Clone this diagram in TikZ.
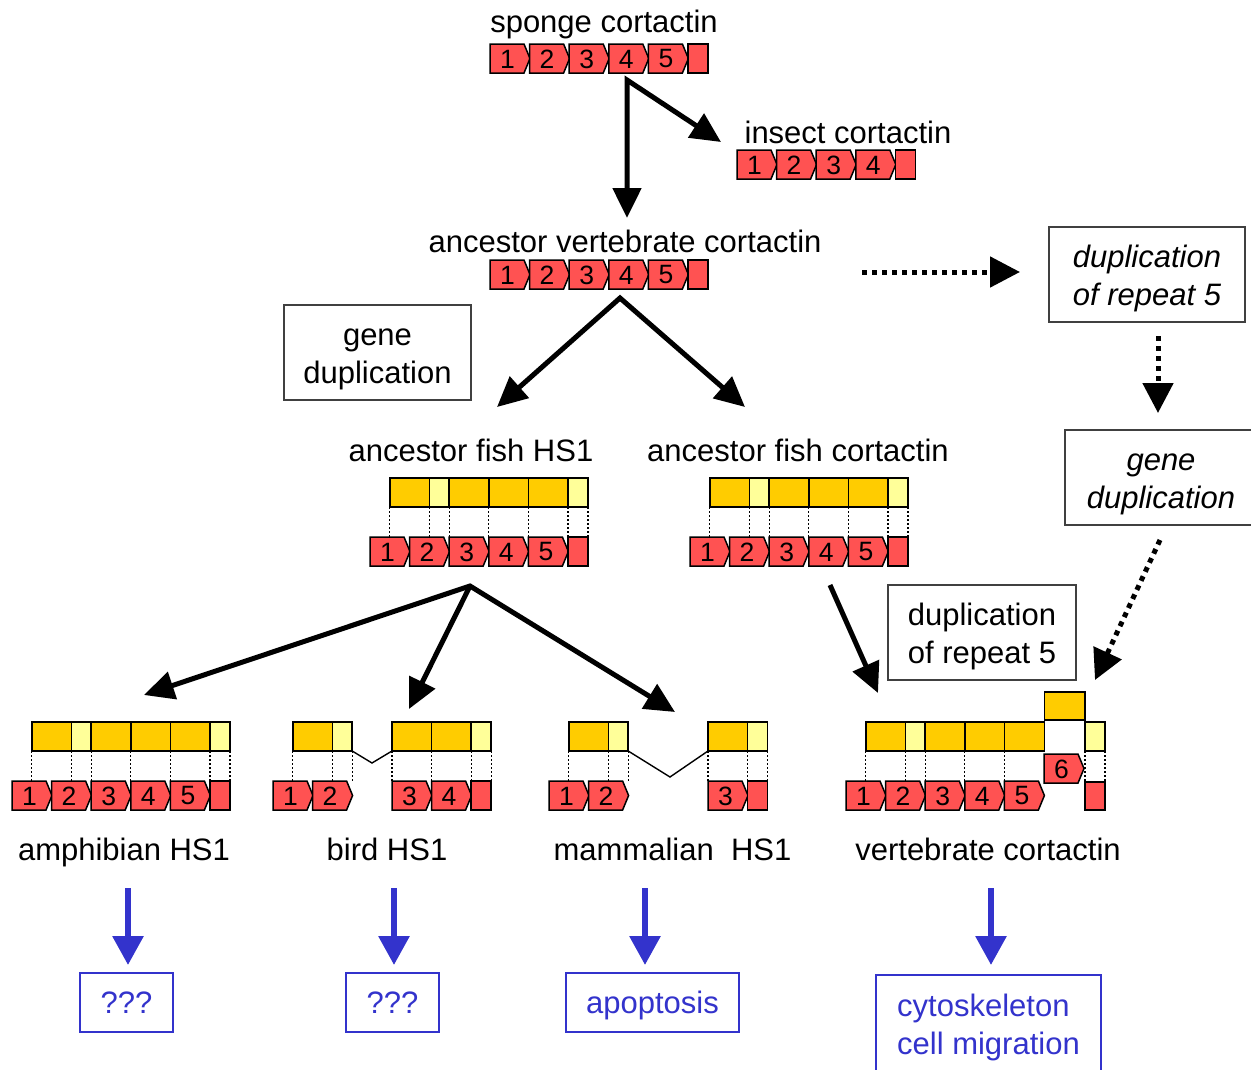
\documentclass[tikz,border=0pt]{standalone}
\usepackage{fontspec}
\setmainfont{Liberation Sans}
\usetikzlibrary{arrows.meta}
\definecolor{repred}{RGB}{255,82,82}
\definecolor{dkyel}{RGB}{255,204,0}
\definecolor{ltyel}{RGB}{255,255,153}
\definecolor{fnblue}{RGB}{51,51,204}
\newcommand\lblfont{\fontsize{31}{38}\selectfont}
\newcommand\numfont{\fontsize{26.5}{28}\selectfont}
\newcommand\bxs{\rule[-7.4pt]{0pt}{38pt}}
\tikzset{
  rep/.style={draw=black, line width=1.5pt, fill=repred, line join=miter},
  num/.style={inner sep=0pt, font=\numfont},
  dk/.style={draw=black, line width=1.5pt, fill=dkyel},
  lt/.style={draw=black, line width=1.5pt, fill=ltyel},
  thindot/.style={line width=1.2pt, dash pattern=on 2pt off 2pt},
  vline/.style={line width=1.4pt},
  lbl/.style={anchor=base, inner sep=0pt, font=\lblfont},
  bx/.style={draw=black!75, line width=1.2pt, align=center, font=\lblfont, inner sep=0pt},
  blk/.style={line width=5pt, -{Triangle[length=30pt,width=28pt]}},
  blkboth/.style={line width=5pt, {Triangle[length=30pt,width=28pt]}-{Triangle[length=30pt,width=28pt]}},
  dotarr/.style={line width=5pt, dash pattern=on 5pt off 5pt, -{Triangle[length=30pt,width=30pt]}},
  blu/.style={draw=fnblue, line width=6pt, -{Triangle[length=29pt,width=30pt]}},
  bbx/.style={draw=fnblue, line width=2.5pt, text=fnblue, font=\lblfont, inner sep=0pt},
  one/.style={text height=24pt, text depth=2pt},
}
\newcommand\pent[4]{%
  \draw[rep] ({#1},{#2}) -- ++(34,0) -- ++(6,14.5) -- ++(-6,14.5) -- ++(-34,0) -- cycle;
  \node[num] (#4) at ({#1+17.5},{#2+15}) {#3};}
\newcommand\tailbox[3]{%
  \draw[rep] ({#1},{#2}) rectangle ++(20,29);
  \coordinate (#3) at ({#1},{#2});}
\newcommand\fullgene[4]{%
  \foreach \k in {1,...,#3} {\pent{#1+(\k-1)*39.6}{#2}{\k}{#4\k}}
  \tailbox{#1+#3*39.6}{#2}{#4e}}
\newcommand\yseg[4]{\draw[#4] ({#1},{#3}) rectangle ({#2},{#3+29});}
\newcommand\dline[3]{\draw[thindot] ({#1},{#2}) -- ({#1},{#3});}
\newcommand\fullbar[2]{%
  \yseg{#1+19.8}{#1+59.4}{#2}{dk}
  \yseg{#1+59.4}{#1+79.2}{#2}{lt}
  \yseg{#1+79.2}{#1+118.8}{#2}{dk}
  \yseg{#1+118.8}{#1+158.4}{#2}{dk}
  \yseg{#1+158.4}{#1+198}{#2}{dk}
  \yseg{#1+198}{#1+218}{#2}{lt}
  \foreach \d in {19.8,59.4,79.2,118.8,158.4,198,218} {\dline{#1+\d}{#2+29}{#2+59}}}
\begin{document}
\begin{tikzpicture}[x=1pt,y=-1pt]
\useasboundingbox (0,0) rectangle (1251,1069);
\fill[white] (0,0) rectangle (1251,1069);

% ---- top: sponge and insect
\node[lbl] (lsponge) at (604,32) {sponge cortactin};
\fullgene{490}{44}{5}{sp}
\node[lbl] (linsect) at (848,143) {insect cortactin};
\fullgene{737}{150}{4}{in}

% ---- ancestor vertebrate
\node[lbl] (lanc) at (625,252) {ancestor vertebrate cortactin};
\fullgene{490}{260}{5}{av}

\coordinate (s0) at (627,80);
\coordinate (s1) at (627,218);
\coordinate (s2) at (721,142);
\draw[blkboth] (s1) -- (s0) -- (s2);

\coordinate (v0) at (620,298);
\coordinate (v1) at (497,407);
\coordinate (v2) at (745,407);
\draw[blkboth] (v1) -- (v0) -- (v2);

\node[bx, minimum width=187pt, minimum height=95pt] (gdup) at (377.5,352.5) {\bxs gene\\\bxs duplication};

% right side italic boxes
\node[bx, minimum width=196pt, minimum height=95pt, font=\lblfont\itshape] (drep1) at (1147,274.5) {\bxs duplication\\\bxs of repeat 5};
\node[bx, minimum width=192pt, minimum height=95pt, font=\lblfont\itshape] (gdup2) at (1161,477.5) {\bxs gene\\\bxs duplication};
\coordinate (d0) at (862,272);
\coordinate (d1) at (1020,272);
\draw[dotarr] (d0) -- (d1);
\coordinate (d2) at (1158,336);
\coordinate (d3) at (1158,413);
\draw[dotarr] (d2) -- (d3);
\coordinate (d4) at (1160,540);
\coordinate (d5) at (1095,680);
\draw[dotarr] (d4) -- (d5);

% ---- ancestor fish
\node[lbl] (lfhs) at (471,461) {ancestor fish HS1};
\node[lbl] (lfct) at (798,461) {ancestor fish cortactin};
\fullbar{370}{478}
\fullgene{370}{537}{5}{fh}
\fullbar{690}{478}
\fullgene{690}{537}{5}{fc}

\coordinate (h0) at (470,586);
\coordinate (h1) at (144,695);
\coordinate (h2) at (409,709);
\coordinate (h3) at (675,712);
\draw[blkboth] (h1) -- (h0) -- (h3);
\draw[blk] (h0) -- (h2);
\coordinate (c0) at (830,585);
\coordinate (c1) at (878,693);
\draw[blk] (c0) -- (c1);

\node[bx, minimum width=188pt, minimum height=95pt] (drep2) at (982,632.5) {\bxs duplication\\\bxs of repeat 5};

% ---- amphibian
\fullbar{12}{722}
\fullgene{12}{781}{5}{am}
\node[lbl] (lamph) at (124,860) {amphibian HS1};

% ---- bird
\yseg{292.8}{332.4}{722}{dk}
\yseg{332.4}{352.2}{722}{lt}
\yseg{392}{431.6}{722}{dk}
\yseg{431.6}{471.2}{722}{dk}
\yseg{471.2}{491.2}{722}{lt}
\draw[vline] (352.2,751) -- (372,763) -- (392,751);
\foreach \d in {292.8,332.4,352.2,392,431.6,471.2,491.2} {\dline{\d}{751}{781}}
\pent{273}{781}{1}{bi1}
\pent{312.6}{781}{2}{bi2}
\pent{392}{781}{3}{bi3}
\pent{431.6}{781}{4}{bi4}
\tailbox{471.2}{781}{bie}
\node[lbl] (lbird) at (387,860) {bird HS1};

% ---- mammalian
\yseg{568.8}{608.4}{722}{dk}
\yseg{608.4}{628.2}{722}{lt}
\yseg{708}{747.6}{722}{dk}
\yseg{747.6}{767.6}{722}{lt}
\draw[vline] (628.2,751) -- (670,777) -- (708,751);
\foreach \d in {568.8,608.4,628.2,708,747.6,767.6} {\dline{\d}{751}{781}}
\pent{549}{781}{1}{ma1}
\pent{588.6}{781}{2}{ma2}
\pent{708}{781}{3}{ma3}
\tailbox{747.6}{781}{mae}
\node[lbl] (lmamm) at (672.5,860) {mammalian\ \ HS1};

% ---- vertebrate cortactin
\yseg{865.8}{905.4}{722}{dk}
\yseg{905.4}{925.2}{722}{lt}
\yseg{925.2}{964.8}{722}{dk}
\yseg{964.8}{1004.4}{722}{dk}
\yseg{1004.4}{1044.4}{722}{dk}
\draw[dk] (1044.4,692) rectangle (1085,720);
\yseg{1085}{1105}{722}{lt}
\foreach \d in {865.8,905.4,925.2,964.8,1004.4} {\dline{\d}{751}{781}}
\foreach \d in {1085,1105} {\dline{\d}{751}{782}}
\foreach \k in {1,...,5} {\pent{846+(\k-1)*39.6}{781}{\k}{vc\k}}
\pent{1044}{754}{6}{vc6}
\draw[rep] (1085,782) rectangle (1105,810);
\node[lbl] (lvert) at (988,860) {vertebrate cortactin};

% ---- blue functions
\coordinate (b1a) at (128,888); \coordinate (b1b) at (128,965);
\coordinate (b2a) at (394,888); \coordinate (b2b) at (394,965);
\coordinate (b3a) at (645,888); \coordinate (b3b) at (645,965);
\coordinate (b4a) at (991,888); \coordinate (b4b) at (991,965);
\draw[blu] (b1a) -- (b1b);
\draw[blu] (b2a) -- (b2b);
\draw[blu] (b3a) -- (b3b);
\draw[blu] (b4a) -- (b4b);
\node[bbx, one, minimum width=93pt, minimum height=59pt] (f1) at (126.5,1002.5) {???};
\node[bbx, one, minimum width=93pt, minimum height=59pt] (f2) at (392.5,1002.5) {???};
\node[bbx, one, minimum width=173pt, minimum height=59pt] (f3) at (652.5,1002.5) {apoptosis};
\node[bbx, minimum width=225pt, minimum height=106pt, align=left, anchor=north] (f4) at (988.5,973.5) {\strut cytoskeleton\\\strut cell migration};
\end{tikzpicture}
\end{document}
